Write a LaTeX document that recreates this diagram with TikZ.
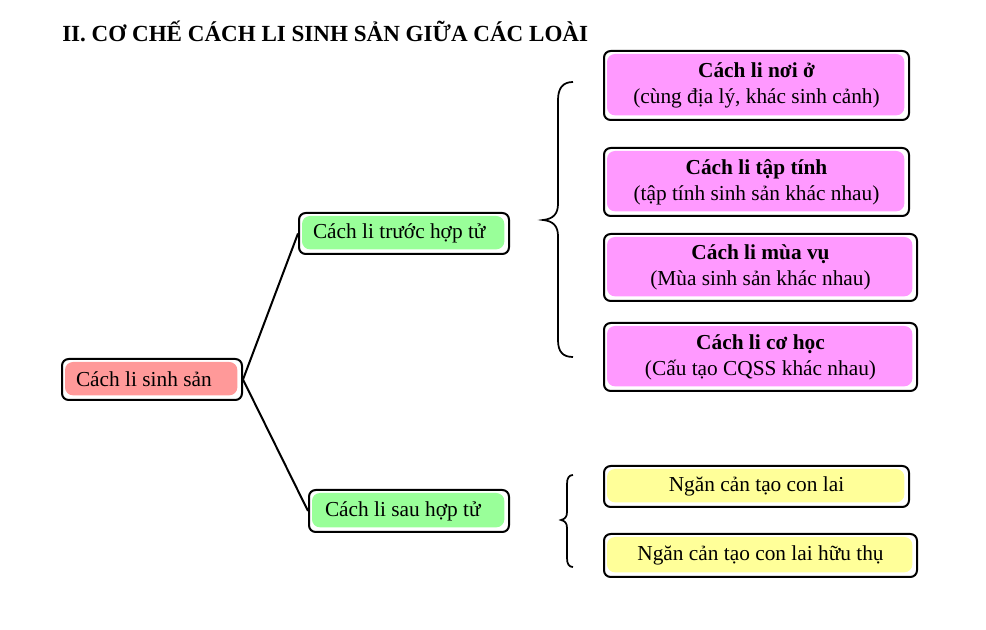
\documentclass[tikz,border=0pt]{standalone}
\usepackage{fontspec}
\setmainfont{Liberation Serif}
\definecolor{magc}{HTML}{FF99FF}
\definecolor{grnc}{HTML}{99FF99}
\definecolor{redc}{HTML}{FF9999}
\definecolor{yelc}{HTML}{FFFF99}
\begin{document}
\begin{tikzpicture}[x=0.75pt,y=-0.75pt,
  boxbase/.style={draw=black, line width=1.5pt, rounded corners=5pt, fill=white,
    inner ysep=0pt, font=\fontsize{16}{19.5}\selectfont,
    path picture={\fill[#1, rounded corners=6pt]
      ([shift={(2.25pt,-2.25pt)}]path picture bounding box.north west) rectangle
      ([shift={(-3.5pt,3.5pt)}]path picture bounding box.south east);}},
  cbox/.style={boxbase=#1, align=center, inner xsep=0pt},
  lbox/.style={boxbase=#1, inner xsep=10.5pt},
  link/.style={line width=1.5pt},
  bracel/.style={line width=1.3pt}
]
\useasboundingbox (0,0) rectangle (986,630);

\node[anchor=base west, inner sep=0pt, font=\fontsize{17.3}{20}\selectfont\bfseries] (title) at (62,42)
  {II. CƠ CHẾ CÁCH LI SINH SẢN GIỮA CÁC LOÀI};

% left column
\node[lbox=redc, minimum height=30.75pt] (red) at (152,379.5)
  {\makebox[114pt][l]{Cách li sinh sản}};
\node[lbox=grnc, minimum height=30.75pt] (g1) at (404,233.5)
  {\makebox[136.5pt][l]{Cách li trước hợp tử}};
\node[lbox=grnc, inner xsep=12pt, minimum height=31.5pt] (g2) at (409,511)
  {\makebox[126pt][l]{Cách li sau hợp tử}};

\draw[link] (red.east) -- (g1.west);
\draw[link] (red.east) -- (g2.west);

% magenta boxes
\node[cbox=magc, minimum width=228.75pt, minimum height=51.75pt] (m1) at (756.5,85.5)
  {\textbf{Cách li nơi ở}\\(cùng địa lý, khác sinh cảnh)};
\node[cbox=magc, minimum width=228.75pt, minimum height=51pt] (m2) at (756.5,182)
  {\textbf{Cách li tập tính}\\(tập tính sinh sản khác nhau)};
\node[cbox=magc, minimum width=234.75pt, minimum height=50.25pt] (m3) at (760.5,267.5)
  {\textbf{Cách li mùa vụ}\\(Mùa sinh sản khác nhau)};
\node[cbox=magc, minimum width=234.75pt, minimum height=51pt] (m4) at (760.5,357)
  {\textbf{Cách li cơ học}\\(Cấu tạo CQSS khác nhau)};

% yellow boxes
\node[cbox=yelc, minimum width=228.75pt, minimum height=30.75pt] (y1) at (756.5,486.5)
  {Ngăn cản tạo con lai};
\node[cbox=yelc, minimum width=234.75pt, minimum height=32.25pt] (y2) at (760.5,555.5)
  {Ngăn cản tạo con lai hữu thụ};

% braces
\draw[bracel] (573,82) .. controls (563,82) and (558,88) .. (558,100) -- (558,204)
  .. controls (558,214) and (553,219) .. (543,220)
  .. controls (553,221) and (558,226) .. (558,236) -- (558,340)
  .. controls (558,352) and (563,357) .. (573,357);
\draw[bracel] (573,475) .. controls (569,475) and (567,478) .. (567,484) -- (567,512)
  .. controls (567,517) and (565,519) .. (561,520)
  .. controls (565,521) and (567,523) .. (567,528) -- (567,558)
  .. controls (567,564) and (569,567) .. (573,567);
\end{tikzpicture}
\end{document}
